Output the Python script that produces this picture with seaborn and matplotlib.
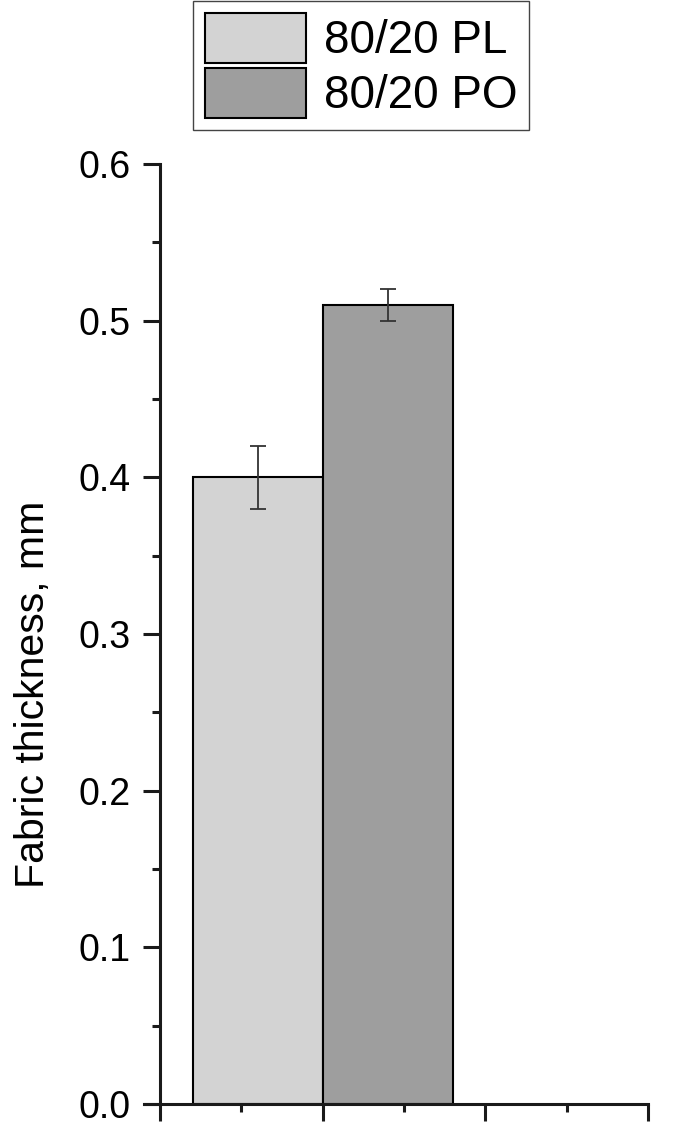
import pandas as pd
import matplotlib.pyplot as plt
from matplotlib.patches import Patch
from matplotlib.ticker import MultipleLocator
import seaborn as sns

# Daten
samples = ["80/20 PL", "80/20 PO"]
thickness = [0.40, 0.51]
errors = [0.02, 0.01]
colors = ["#d3d3d3", "#9e9e9e"]
y_ticks = [0.0, 0.1, 0.2, 0.3, 0.4, 0.5, 0.6]
y_labels = ["0.0", "0.1", "0.2", "0.3", "0.4", "0.5", "0.6"]

df = pd.DataFrame({"group": ["80/20"] * len(samples),
                   "sample": samples,
                   "thickness": thickness})

sns.set_style("ticks")
plt.rcParams["font.family"] = ["Liberation Sans", "DejaVu Sans"]
plt.rcParams["text.color"] = "black"
plt.rcParams["axes.labelcolor"] = "black"
plt.rcParams["xtick.color"] = "black"
plt.rcParams["ytick.color"] = "black"

fig = plt.figure(figsize=(6.85, 11.32), dpi=100)
ax = fig.add_axes([0.2336, 0.0247, 0.7124, 0.8304])

sns.barplot(data=df, x="group", y="thickness", hue="sample",
            palette=colors, saturation=1, width=1.6,
            edgecolor="black", linewidth=1.5, errorbar=None,
            legend=False, ax=ax)

# Fehlerbalken
for bar, err in zip(ax.patches, errors):
    xc = bar.get_x() + bar.get_width() / 2
    ax.errorbar(xc, bar.get_height(), yerr=err, fmt="none",
                ecolor="#333333", elinewidth=1.3, capsize=6, capthick=1.3)

ax.set_xlim(-1, 2)
ax.set_xticks([-1, 0, 1, 2])
ax.set_xticklabels([])
ax.xaxis.set_minor_locator(MultipleLocator(0.5))
ax.set_xlabel("")

ax.set_ylim(0, 0.6)
ax.set_yticks(y_ticks)
ax.set_yticklabels(y_labels)
ax.yaxis.set_minor_locator(MultipleLocator(0.05))
ax.set_ylabel("Fabric thickness, mm", fontsize=29.5)
ax.yaxis.set_label_coords(-0.222, 0.4356)

sns.despine(ax=ax)
for side in ["left", "bottom"]:
    ax.spines[side].set_linewidth(2.2)
    ax.spines[side].set_color("#1a1a1a")
ax.spines["bottom"].set_bounds(-1.1, 2)

ax.tick_params(axis="both", which="major", length=12, width=2.2,
               color="#1a1a1a", labelsize=27, pad=9)
ax.tick_params(axis="both", which="minor", length=6, width=2.2,
               color="#1a1a1a")

handles = [Patch(facecolor=c, edgecolor="black", linewidth=1.5) for c in colors]
leg = fig.legend(handles, samples, loc="upper center",
                 bbox_to_anchor=(0.5275, 1.0), fontsize=33,
                 handlelength=2.2, handleheight=1.3, handletextpad=0.38,
                 labelspacing=0.1, borderpad=0.26, borderaxespad=0.02,
                 fancybox=False, framealpha=1, edgecolor="#444444")
leg.get_frame().set_linewidth(1.0)

fig.savefig("out.png", dpi=100)
